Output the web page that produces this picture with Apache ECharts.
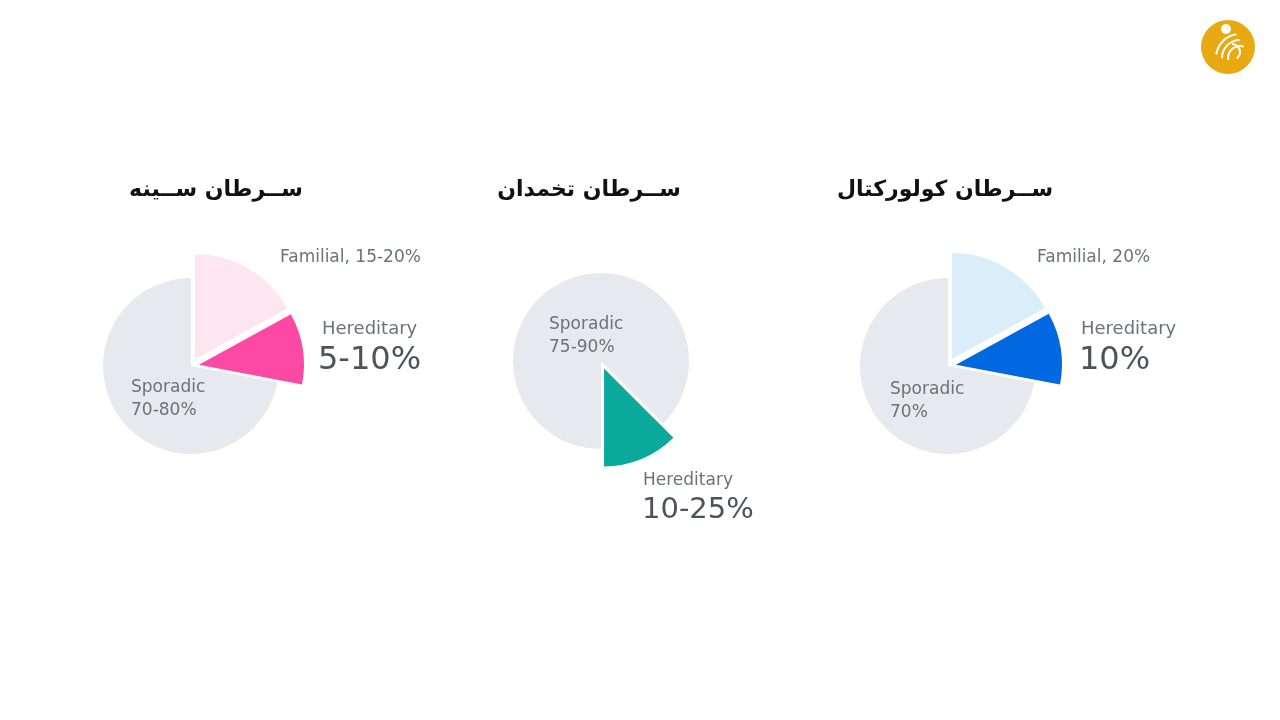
<!DOCTYPE html>
<html>
<head>
<meta charset="utf-8">
<script src="https://cdn.jsdelivr.net/npm/echarts@6/dist/echarts.min.js"></script>
<style>
html,body{margin:0;padding:0;background:#fff;}
#chart{width:1280px;height:720px;}
</style>
</head>
<body>
<div id="chart"></div>
<script>
// ---- data ----
const titles = ['ســرطان ســینه', 'ســرطان تخمدان', 'ســرطان کولورکتال'];
const breastNames = ['Familial', 'Hereditary', 'Sporadic'];
const breastValues = [17, 11, 72];
const breastLabels = ['Familial, 15-20%', 'Hereditary', '5-10%', 'Sporadic', '70-80%'];
const ovarianNames = ['Hereditary', 'Sporadic'];
const ovarianValues = [12.5, 87.5];
const ovarianLabels = ['Sporadic', '75-90%', 'Hereditary', '10-25%'];
const colorectalNames = ['Familial', 'Hereditary', 'Sporadic'];
const colorectalValues = [17, 11, 72];
const colorectalLabels = ['Familial, 20%', 'Hereditary', '10%', 'Sporadic', '70%'];

// ---- styles ----
const GRAY = '#e6e9ee';
const breastColors = ['#fde6ef', '#fc4aa4', GRAY];
const ovarianColors = ['#0aa99b', GRAY];
const colorectalColors = ['#d9eef8', '#0068e1', GRAY];
const labelColor = '#6c717a';
const bigColor = '#4e535b';
const LF = '"DejaVu Sans", sans-serif';

function pieSeries(names, values, colors, center, startAngle, grayR, colR) {
  const base = {
    type: 'pie', center: center, startAngle: startAngle, clockwise: true,
    silent: true, label: {show: false}, labelLine: {show: false},
    emphasis: {disabled: true}, animation: false, z: 2
  };
  const grayS = Object.assign({}, base, {
    radius: [0, grayR],
    itemStyle: {borderWidth: 0},
    data: names.map((n, i) => ({
      name: n, value: values[i],
      itemStyle: {color: colors[i] === GRAY ? GRAY : 'rgba(0,0,0,0)', borderWidth: 0}
    }))
  });
  const colS = Object.assign({}, base, {
    radius: [0, colR],
    selectedMode: 'multiple', selectedOffset: 8,
    itemStyle: {borderWidth: 0},
    data: names.map((n, i) => ({
      name: n, value: values[i], selected: colors[i] !== GRAY,
      itemStyle: {color: colors[i] === GRAY ? 'rgba(0,0,0,0)' : colors[i], borderWidth: 0},
      select: {itemStyle: {color: colors[i] === GRAY ? 'rgba(0,0,0,0)' : colors[i], borderWidth: 0}}
    }))
  });
  return [grayS, colS];
}

function txt(t, x, y, size, color, weight, family, align) {
  return {
    type: 'text', silent: true, z: 100,
    style: {
      text: t, x: x, y: y, fill: color,
      font: (weight || 'normal') + ' ' + size + 'px ' + (family || LF),
      textAlign: align || 'left', textVerticalAlign: 'middle'
    }
  };
}

const titleFont = '"DejaVu Sans", "Noto Sans", sans-serif';
const graphics = [
  txt(titles[0], 216, 190, 22, '#111', 'bold', titleFont, 'center'),
  txt(titles[1], 589, 190, 22, '#111', 'bold', titleFont, 'center'),
  txt(titles[2], 945, 190, 22, '#111', 'bold', titleFont, 'center'),

  txt(breastLabels[0], 280, 258, 17, labelColor),
  txt(breastLabels[1], 322, 329, 18, labelColor),
  txt(breastLabels[2], 318, 361, 32, bigColor),
  txt(breastLabels[3], 131, 388, 17, labelColor),
  txt(breastLabels[4], 131, 411, 17, labelColor),

  txt(ovarianLabels[0], 549, 325, 17, labelColor),
  txt(ovarianLabels[1], 549, 348, 17, labelColor),
  txt(ovarianLabels[2], 643, 481, 17, labelColor),
  txt(ovarianLabels[3], 642, 510, 29, bigColor),

  txt(colorectalLabels[0], 1037, 258, 17, labelColor),
  txt(colorectalLabels[1], 1081, 329, 18, labelColor),
  txt(colorectalLabels[2], 1079, 361, 32, bigColor),
  txt(colorectalLabels[3], 890, 390, 17, labelColor),
  txt(colorectalLabels[4], 890, 413, 17, labelColor),

  // logo
  {type: 'circle', silent: true, z: 100, shape: {cx: 1228, cy: 47, r: 27}, style: {fill: '#e8a913'}},
  {type: 'circle', silent: true, z: 101, shape: {cx: 1226, cy: 29, r: 5}, style: {fill: '#fff'}},
  {type: 'arc', silent: true, z: 101, shape: {cx: 1240, cy: 58, r: 24, startAngle: Math.PI * 1.05, endAngle: Math.PI * 1.45}, style: {stroke: '#fff', lineWidth: 2, fill: null}},
  {type: 'arc', silent: true, z: 101, shape: {cx: 1240, cy: 58, r: 18, startAngle: Math.PI * 1.0, endAngle: Math.PI * 1.5}, style: {stroke: '#fff', lineWidth: 2, fill: null}},
  {type: 'arc', silent: true, z: 101, shape: {cx: 1240, cy: 58, r: 12, startAngle: Math.PI * 0.95, endAngle: Math.PI * 1.6}, style: {stroke: '#fff', lineWidth: 2, fill: null}},
  {type: 'arc', silent: true, z: 101, shape: {cx: 1232, cy: 52, r: 8, startAngle: Math.PI * 1.5, endAngle: Math.PI * 2.3}, style: {stroke: '#fff', lineWidth: 2, fill: null}}
];

const series = [].concat(
  pieSeries(breastNames, breastValues, breastColors, [191, 366], 90, 88, 105),
  pieSeries(ovarianNames, ovarianValues, ovarianColors, [601, 361], -45, 88, 98),
  pieSeries(colorectalNames, colorectalValues, colorectalColors, [948, 366], 90, 88, 106)
);

const chart = echarts.init(document.getElementById('chart'));
chart.setOption({
  backgroundColor: '#fff',
  animation: false,
  tooltip: {show: false},
  series: series,
  graphic: graphics
});
</script>
</body>
</html>
